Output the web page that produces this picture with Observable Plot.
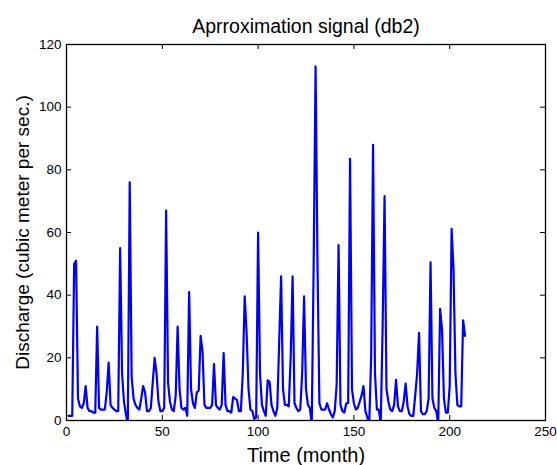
<!DOCTYPE html>
<html>
<head>
<meta charset="utf-8">
<script src="https://cdn.jsdelivr.net/npm/d3@7"></script>
<script src="https://cdn.jsdelivr.net/npm/@observablehq/plot@0.6"></script>
<style>
  html, body { margin: 0; padding: 0; background: #fff; }
</style>
</head>
<body>
<div id="chart"></div>
<script>
const titleText = "Aprroximation signal (db2)";
const xLabel = "Time (month)";
const yLabel = "Discharge (cubic meter per sec.)";
const xTicks = [0, 50, 100, 150, 200, 250];
const yTicks = [0, 20, 40, 60, 80, 100, 120];

// Approximation signal, months 1..208
const discharge = [
  1.5, 1.5, 1.5, 50, 51, 7, 4.5, 4, 5.5, 11,
  4, 3, 3, 2.5, 2.5, 30, 4, 3.5, 3.5, 3.5,
  9, 18.5, 5, 4, 3.5, 3, 3, 55, 15, 6,
  2, -1, 76, 14, 7, 5, 4, 3.5, 7, 11,
  9, 3, 3, 4, 12, 20, 15, 6, 3, 3,
  4, 67, 12, 6, 3.5, 3, 8, 30, 10, 4,
  3.5, 4, 1.5, 41, 10, 5.5, 4, 9, 9.5, 27,
  22, 5, 4, 4, 4, 5, 18, 5, 4, 3.5,
  5, 21.5, 5, 3, 3, 2.5, 7.5, 7, 6.5, 3,
  3, 15, 39.6, 28, 10, 3.5, 3, 0.5, 1, 60,
  15, 5, 3, 1.5, 12.8, 12.3, 5, 3, 1.5, 4,
  25, 46, 10, 5, 5, 4.5, 20, 46, 5.5, 4,
  3, 3.5, 15, 39.6, 10, 5, 4, -1, 50, 113,
  50, 5.5, 3.5, 3.5, 3.5, 5.5, 3.5, 2, 1, 3,
  11.5, 56, 5, 3, 2.5, 5.5, 5.5, 83.5, 10, 5.5,
  3.5, 4, 6, 8, 11, 3, 1, -1, 20, 88,
  15, 3.5, 3.5, -1, 30, 71.6, 10, 6, 3.5, 3,
  5, 13, 4.5, 3, 3, 6, 11.8, 4.5, 2, 1.5,
  1.5, 8, 15, 28, 3, 2, 2, 3, 7, 50.5,
  7, 4, 3, -1, 35.6, 29, 7, 2.5, 2.5, 11,
  61.2, 48, 15, 5, 4.5, 4.5, 32, 27
];
const months = discharge.map((_, i) => i + 1);
const series = months.map((m, i) => ({month: m, value: discharge[i]}));

const font = "'Liberation Sans', Arial, Helvetica, sans-serif";
const W = 557, H = 465;
const mL = 66, mR = 12, mT = 44, mB = 45;
const innerH = H - mT - mB;
const innerW = W - mL - mR;
const tickLen = 5;

const chart = Plot.plot({
  width: W,
  height: H,
  marginLeft: mL,
  marginRight: mR,
  marginTop: mT,
  marginBottom: mB,
  style: {fontFamily: font, fontSize: "13px", color: "#000", background: "#fff", overflow: "visible"},
  x: {domain: [0, 250], ticks: xTicks, label: null},
  y: {domain: [0, 120], ticks: yTicks, label: null},
  marks: [
    Plot.line(series, {x: "month", y: "value", stroke: "#0000ff", strokeWidth: 2.2, clip: true}),
    // inward ticks, bottom/top
    Plot.tickX(xTicks, {x: d => d, insetTop: innerH - tickLen, stroke: "#000", strokeWidth: 1}),
    Plot.tickX(xTicks, {x: d => d, insetBottom: innerH - tickLen, stroke: "#000", strokeWidth: 1}),
    // inward ticks, left/right
    Plot.tickY(yTicks, {y: d => d, insetRight: innerW - tickLen, stroke: "#000", strokeWidth: 1}),
    Plot.tickY(yTicks, {y: d => d, insetLeft: innerW - tickLen, stroke: "#000", strokeWidth: 1}),
    Plot.frame({stroke: "#000", strokeWidth: 1.3}),
    Plot.axisX(xTicks, {tickSize: 0, tickPadding: 6, fontSize: 13.5, fill: "#000", label: null}),
    Plot.axisY(yTicks, {tickSize: 0, tickPadding: 5, fontSize: 13.5, fill: "#000", label: null}),
    Plot.text([titleText], {frameAnchor: "top", lineAnchor: "middle", dy: -18, fontSize: 19.5, fill: "#000", text: d => d}),
    Plot.text([xLabel], {frameAnchor: "bottom", lineAnchor: "middle", dy: 35, fontSize: 20, fill: "#000", text: d => d}),
    Plot.text([yLabel], {frameAnchor: "left", dx: -44, rotate: -90, textAnchor: "middle", fontSize: 19, fill: "#000", text: d => d})
  ]
});
document.getElementById("chart").appendChild(chart);
</script>
</body>
</html>
